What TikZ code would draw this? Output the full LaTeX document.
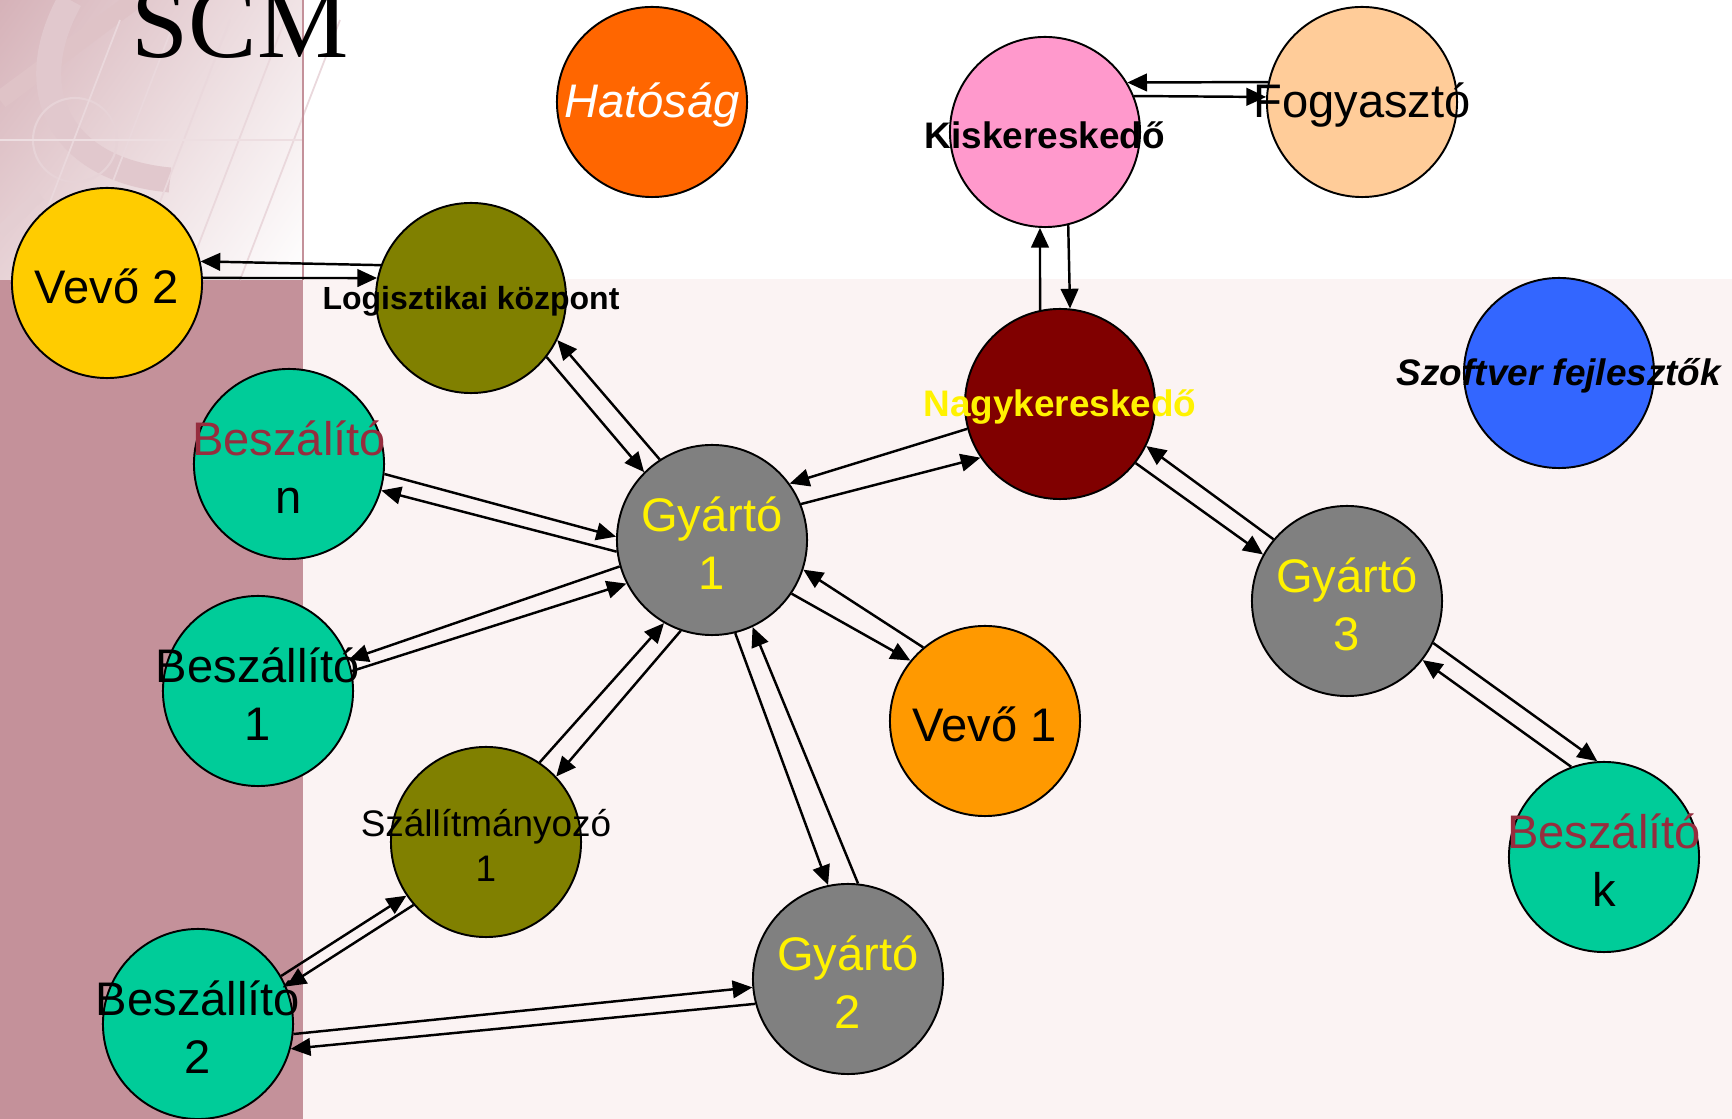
\documentclass[tikz,border=0pt]{standalone}
\usepackage{fontspec}
\setmainfont{Liberation Sans}
\newfontfamily\titlefont{Liberation Serif}
\usetikzlibrary{arrows.meta,shadings}
\definecolor{mauve}{HTML}{C4919A}
\definecolor{blush}{HTML}{FBF3F3}
\definecolor{bred}{HTML}{962D3E}
\definecolor{hatosag}{HTML}{FF6600}
\definecolor{kisker}{HTML}{FF99CC}
\definecolor{fogy}{HTML}{FFCC99}
\definecolor{vevo2}{HTML}{FFCC00}
\definecolor{vevo1}{HTML}{FF9900}
\definecolor{oliv}{HTML}{808000}
\definecolor{nagy}{HTML}{800000}
\definecolor{szoft}{HTML}{3366FF}
\definecolor{besz}{HTML}{00CC99}
\definecolor{gyar}{HTML}{808080}
\newcommand\bigf{\fontsize{13.4}{16.5}\selectfont}
\newcommand\smallf{\fontsize{10.5}{12.8}\selectfont}
\newcommand\logf{\fontsize{9.1}{11}\selectfont}
\newcommand\titlef{\titlefont\fontsize{29.2}{32}\selectfont}

\begin{document}
\begin{tikzpicture}[x=0.01cm,y=-0.01cm]
\tikzstyle{ent}=[circle, draw=black, line width=0.55pt, minimum size=1.9cm, inner sep=0pt]
\tikzstyle{txt}=[align=center, inner sep=0pt, yshift=-0.03cm, font=\bigf]
\tikzstyle{flow}=[-{Triangle[length=5.6pt,width=5pt]}, line width=0.7pt]
% background
\useasboundingbox (0,0) rectangle (1732,1119);
\fill[white] (0,0) rectangle (1732,1119);
\fill[blush] (0,279) rectangle (1732,1119);
\fill[mauve] (0,280) rectangle (303,1119);
\shade[upper left=mauve!70, upper right=mauve!25, lower left=mauve!40, lower right=white] (0,0) rectangle (303,280);
\draw[mauve!55, line width=0.18cm] (0,100) -- (135,0);
\draw[mauve!45, line width=0.12cm] (0,232) -- (40,195);
\draw[mauve!50, line width=0.25cm] (70,0) .. controls (20,90) and (60,170) .. (170,180);
\draw[mauve!40, line width=0.6pt] (75,140) circle (42);
\foreach \i in {0,...,4}
    \draw[mauve!35, line width=0.5pt] (20+55*\i,280) -- (120+55*\i,20);
\draw[mauve!30, line width=0.5pt] (0,140) -- (303,140);
\draw[mauve, line width=0.4pt] (303,0) -- (303,280);
\node[anchor=base west, inner sep=0pt, font=\titlef] (title) at (131,58) {SCM};
% actors
\node[ent, fill=hatosag, label={[txt, text=white, font=\bigf\itshape]center:Hatóság}] (hat) at (652,102) {};
\node[ent, fill=kisker, label={[txt, font=\smallf\bfseries]center:Kiskereskedő}] (kis) at (1045,132) {};
\node[ent, fill=fogy, label={[txt]center:Fogyasztó}] (fog) at (1362,102) {};
\node[ent, fill=vevo2, label={[txt]center:Vevő 2}] (v2) at (107,283) {};
\node[ent, fill=oliv, label={[txt, font=\logf\bfseries]center:Logisztikai központ}] (log) at (471,298) {};
\node[ent, fill=nagy, label={[txt, text=yellow, font=\smallf\bfseries]center:Nagykereskedő}] (nagy) at (1060,404) {};
\node[ent, fill=szoft, label={[txt, font=\smallf\bfseries\itshape]center:Szoftver fejlesztők}] (szoft) at (1559,373) {};
\node[ent, fill=besz, label={[txt]center:{\color{bred}Beszálító}\\n}] (bn) at (289,464) {};
\node[ent, fill=gyar, label={[txt, text=yellow]center:Gyártó\\1}] (g1) at (712,540) {};
\node[ent, fill=gyar, label={[txt, text=yellow]center:Gyártó\\3}] (g3) at (1347,601) {};
\node[ent, fill=besz, label={[txt]center:Beszállító\\1}] (b1) at (258,691) {};
\node[ent, fill=vevo1, label={[txt]center:Vevő 1}] (v1) at (985,721) {};
\node[ent, fill=oliv, label={[txt, font=\smallf]center:Szállítmányozó\\1}] (sz) at (486,842) {};
\node[ent, fill=besz, label={[txt]center:{\color{bred}Beszálító}\\k}] (bk) at (1604,857) {};
\node[ent, fill=besz, label={[txt]center:Beszállító\\2}] (b2) at (198,1024) {};
\node[ent, fill=gyar, label={[txt, text=yellow]center:Gyártó\\2}] (g2) at (848,979) {};
% flows, two per pair
\foreach \s/\sa/\t/\ta in {log/160/v2/13, v2/3/log/168,
    log/-38/g1/135, g1/123/log/-26, bn/-6/g1/178, g1/187/bn/-16,
    g1/196/b1/19, b1/12/g1/207, g1/22/nagy/214, nagy/195/g1/36,
    nagy/102/kis/267, kis/284/nagy/84, fog/168/kis/31, kis/22/fog/177,
    nagy/-38/g3/151, g3/140/nagy/-26, g3/-26/bk/94, bk/110/g3/-38,
    v1/130/g1/-18, g1/-34/v1/141, g1/-76/g2/102, g2/84/g1/-65,
    sz/56/g1/-120, g1/-109/sz/43, b2/30/sz/214, sz/221/b2/23,
    b2/-6/g2/185, g2/195/b2/-15}
    \draw[flow] (\s.\sa) -- (\t.\ta);
\end{tikzpicture}
\end{document}
